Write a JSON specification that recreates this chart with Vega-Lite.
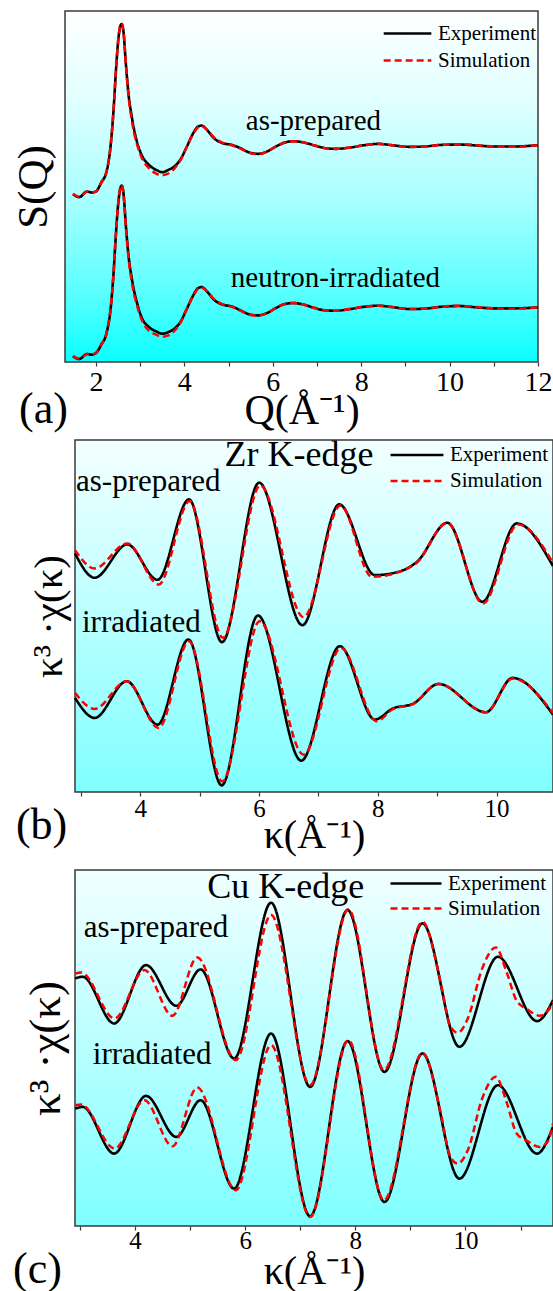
{
"$schema":"https://vega.github.io/schema/vega-lite/v6.json",
"padding":{"left":12,"top":10,"right":0,"bottom":0},
"background":"#ffffff",
"datasets":{
"a":[
{"s":"Experiment","g":"as","x":1.48,"y":5.04},{"s":"Experiment","g":"as","x":1.62,"y":4.95},{"s":"Experiment","g":"as","x":1.80,"y":5.12},{"s":"Experiment","g":"as","x":1.90,"y":5.09},{"s":"Experiment","g":"as","x":2.00,"y":5.12},{"s":"Experiment","g":"as","x":2.12,"y":5.39},{"s":"Experiment","g":"as","x":2.24,"y":5.72},{"s":"Experiment","g":"as","x":2.34,"y":6.6},{"s":"Experiment","g":"as","x":2.40,"y":7.6},{"s":"Experiment","g":"as","x":2.45,"y":8.7},{"s":"Experiment","g":"as","x":2.50,"y":9.6},{"s":"Experiment","g":"as","x":2.545,"y":10.05},{"s":"Experiment","g":"as","x":2.58,"y":10.15},{"s":"Experiment","g":"as","x":2.62,"y":9.95},{"s":"Experiment","g":"as","x":2.68,"y":8.9},{"s":"Experiment","g":"as","x":2.74,"y":8.0},{"s":"Experiment","g":"as","x":2.80,"y":7.45},{"s":"Experiment","g":"as","x":2.86,"y":7.0},{"s":"Experiment","g":"as","x":2.92,"y":6.65},{"s":"Experiment","g":"as","x":3.04,"y":6.2},{"s":"Experiment","g":"as","x":3.20,"y":5.92},{"s":"Experiment","g":"as","x":3.36,"y":5.77},{"s":"Experiment","g":"as","x":3.50,"y":5.70},{"s":"Experiment","g":"as","x":3.64,"y":5.77},{"s":"Experiment","g":"as","x":3.80,"y":5.90},{"s":"Experiment","g":"as","x":3.92,"y":6.1},{"s":"Experiment","g":"as","x":4.04,"y":6.42},{"s":"Experiment","g":"as","x":4.20,"y":6.87},{"s":"Experiment","g":"as","x":4.31,"y":7.07},{"s":"Experiment","g":"as","x":4.39,"y":7.10},{"s":"Experiment","g":"as","x":4.51,"y":6.97},{"s":"Experiment","g":"as","x":4.67,"y":6.72},{"s":"Experiment","g":"as","x":4.87,"y":6.57},{"s":"Experiment","g":"as","x":5.07,"y":6.52},{"s":"Experiment","g":"as","x":5.27,"y":6.42},{"s":"Experiment","g":"as","x":5.47,"y":6.29},{"s":"Experiment","g":"as","x":5.67,"y":6.25},{"s":"Experiment","g":"as","x":5.87,"y":6.32},{"s":"Experiment","g":"as","x":6.07,"y":6.47},{"s":"Experiment","g":"as","x":6.27,"y":6.59},{"s":"Experiment","g":"as","x":6.47,"y":6.63},{"s":"Experiment","g":"as","x":6.71,"y":6.59},{"s":"Experiment","g":"as","x":6.95,"y":6.50},{"s":"Experiment","g":"as","x":7.19,"y":6.42},{"s":"Experiment","g":"as","x":7.43,"y":6.40},{"s":"Experiment","g":"as","x":7.75,"y":6.44},{"s":"Experiment","g":"as","x":8.07,"y":6.51},{"s":"Experiment","g":"as","x":8.39,"y":6.55},{"s":"Experiment","g":"as","x":8.70,"y":6.51},{"s":"Experiment","g":"as","x":9.10,"y":6.46},{"s":"Experiment","g":"as","x":9.42,"y":6.47},{"s":"Experiment","g":"as","x":9.82,"y":6.52},{"s":"Experiment","g":"as","x":10.22,"y":6.53},{"s":"Experiment","g":"as","x":10.62,"y":6.50},{"s":"Experiment","g":"as","x":11.02,"y":6.47},{"s":"Experiment","g":"as","x":11.42,"y":6.47},{"s":"Experiment","g":"as","x":12.0,"y":6.51},
{"s":"Simulation","g":"as","x":1.48,"y":5.05},{"s":"Simulation","g":"as","x":1.62,"y":4.96},{"s":"Simulation","g":"as","x":1.80,"y":5.12},{"s":"Simulation","g":"as","x":1.90,"y":5.10},{"s":"Simulation","g":"as","x":2.00,"y":5.12},{"s":"Simulation","g":"as","x":2.12,"y":5.38},{"s":"Simulation","g":"as","x":2.24,"y":5.72},{"s":"Simulation","g":"as","x":2.34,"y":6.6},{"s":"Simulation","g":"as","x":2.40,"y":7.6},{"s":"Simulation","g":"as","x":2.45,"y":8.7},{"s":"Simulation","g":"as","x":2.50,"y":9.6},{"s":"Simulation","g":"as","x":2.545,"y":10.08},{"s":"Simulation","g":"as","x":2.58,"y":10.17},{"s":"Simulation","g":"as","x":2.62,"y":9.95},{"s":"Simulation","g":"as","x":2.68,"y":8.9},{"s":"Simulation","g":"as","x":2.74,"y":7.95},{"s":"Simulation","g":"as","x":2.80,"y":7.35},{"s":"Simulation","g":"as","x":2.86,"y":6.9},{"s":"Simulation","g":"as","x":2.92,"y":6.58},{"s":"Simulation","g":"as","x":3.04,"y":6.12},{"s":"Simulation","g":"as","x":3.20,"y":5.82},{"s":"Simulation","g":"as","x":3.36,"y":5.66},{"s":"Simulation","g":"as","x":3.50,"y":5.61},{"s":"Simulation","g":"as","x":3.64,"y":5.66},{"s":"Simulation","g":"as","x":3.80,"y":5.85},{"s":"Simulation","g":"as","x":3.92,"y":6.08},{"s":"Simulation","g":"as","x":4.04,"y":6.42},{"s":"Simulation","g":"as","x":4.20,"y":6.85},{"s":"Simulation","g":"as","x":4.31,"y":7.05},{"s":"Simulation","g":"as","x":4.39,"y":7.09},{"s":"Simulation","g":"as","x":4.51,"y":6.98},{"s":"Simulation","g":"as","x":4.67,"y":6.74},{"s":"Simulation","g":"as","x":4.87,"y":6.58},{"s":"Simulation","g":"as","x":5.07,"y":6.51},{"s":"Simulation","g":"as","x":5.27,"y":6.41},{"s":"Simulation","g":"as","x":5.47,"y":6.28},{"s":"Simulation","g":"as","x":5.67,"y":6.24},{"s":"Simulation","g":"as","x":5.87,"y":6.32},{"s":"Simulation","g":"as","x":6.07,"y":6.47},{"s":"Simulation","g":"as","x":6.27,"y":6.59},{"s":"Simulation","g":"as","x":6.47,"y":6.63},{"s":"Simulation","g":"as","x":6.71,"y":6.59},{"s":"Simulation","g":"as","x":6.95,"y":6.50},{"s":"Simulation","g":"as","x":7.19,"y":6.42},{"s":"Simulation","g":"as","x":7.43,"y":6.40},{"s":"Simulation","g":"as","x":7.75,"y":6.44},{"s":"Simulation","g":"as","x":8.07,"y":6.51},{"s":"Simulation","g":"as","x":8.39,"y":6.55},{"s":"Simulation","g":"as","x":8.70,"y":6.51},{"s":"Simulation","g":"as","x":9.10,"y":6.46},{"s":"Simulation","g":"as","x":9.42,"y":6.47},{"s":"Simulation","g":"as","x":9.82,"y":6.52},{"s":"Simulation","g":"as","x":10.22,"y":6.54},{"s":"Simulation","g":"as","x":10.62,"y":6.51},{"s":"Simulation","g":"as","x":11.02,"y":6.47},{"s":"Simulation","g":"as","x":11.42,"y":6.46},{"s":"Simulation","g":"as","x":12.0,"y":6.51},
{"s":"Experiment","g":"irr","x":1.48,"y":0.17},{"s":"Experiment","g":"irr","x":1.62,"y":0.09},{"s":"Experiment","g":"irr","x":1.80,"y":0.24},{"s":"Experiment","g":"irr","x":1.90,"y":0.22},{"s":"Experiment","g":"irr","x":2.00,"y":0.27},{"s":"Experiment","g":"irr","x":2.12,"y":0.52},{"s":"Experiment","g":"irr","x":2.24,"y":0.87},{"s":"Experiment","g":"irr","x":2.34,"y":1.7},{"s":"Experiment","g":"irr","x":2.40,"y":2.7},{"s":"Experiment","g":"irr","x":2.45,"y":3.8},{"s":"Experiment","g":"irr","x":2.50,"y":4.7},{"s":"Experiment","g":"irr","x":2.545,"y":5.18},{"s":"Experiment","g":"irr","x":2.58,"y":5.30},{"s":"Experiment","g":"irr","x":2.62,"y":5.10},{"s":"Experiment","g":"irr","x":2.68,"y":4.05},{"s":"Experiment","g":"irr","x":2.74,"y":3.15},{"s":"Experiment","g":"irr","x":2.80,"y":2.6},{"s":"Experiment","g":"irr","x":2.86,"y":2.15},{"s":"Experiment","g":"irr","x":2.92,"y":1.82},{"s":"Experiment","g":"irr","x":3.04,"y":1.32},{"s":"Experiment","g":"irr","x":3.20,"y":1.05},{"s":"Experiment","g":"irr","x":3.36,"y":0.92},{"s":"Experiment","g":"irr","x":3.50,"y":0.85},{"s":"Experiment","g":"irr","x":3.64,"y":0.90},{"s":"Experiment","g":"irr","x":3.80,"y":1.03},{"s":"Experiment","g":"irr","x":3.92,"y":1.22},{"s":"Experiment","g":"irr","x":4.04,"y":1.55},{"s":"Experiment","g":"irr","x":4.20,"y":2.0},{"s":"Experiment","g":"irr","x":4.31,"y":2.22},{"s":"Experiment","g":"irr","x":4.39,"y":2.25},{"s":"Experiment","g":"irr","x":4.51,"y":2.12},{"s":"Experiment","g":"irr","x":4.67,"y":1.87},{"s":"Experiment","g":"irr","x":4.87,"y":1.72},{"s":"Experiment","g":"irr","x":5.07,"y":1.67},{"s":"Experiment","g":"irr","x":5.27,"y":1.55},{"s":"Experiment","g":"irr","x":5.47,"y":1.43},{"s":"Experiment","g":"irr","x":5.67,"y":1.40},{"s":"Experiment","g":"irr","x":5.87,"y":1.47},{"s":"Experiment","g":"irr","x":6.07,"y":1.62},{"s":"Experiment","g":"irr","x":6.27,"y":1.74},{"s":"Experiment","g":"irr","x":6.47,"y":1.77},{"s":"Experiment","g":"irr","x":6.71,"y":1.72},{"s":"Experiment","g":"irr","x":6.95,"y":1.62},{"s":"Experiment","g":"irr","x":7.19,"y":1.55},{"s":"Experiment","g":"irr","x":7.43,"y":1.54},{"s":"Experiment","g":"irr","x":7.75,"y":1.59},{"s":"Experiment","g":"irr","x":8.07,"y":1.66},{"s":"Experiment","g":"irr","x":8.39,"y":1.69},{"s":"Experiment","g":"irr","x":8.70,"y":1.65},{"s":"Experiment","g":"irr","x":9.10,"y":1.59},{"s":"Experiment","g":"irr","x":9.42,"y":1.60},{"s":"Experiment","g":"irr","x":9.82,"y":1.66},{"s":"Experiment","g":"irr","x":10.22,"y":1.68},{"s":"Experiment","g":"irr","x":10.62,"y":1.64},{"s":"Experiment","g":"irr","x":11.02,"y":1.61},{"s":"Experiment","g":"irr","x":11.42,"y":1.61},{"s":"Experiment","g":"irr","x":12.0,"y":1.64},
{"s":"Simulation","g":"irr","x":1.48,"y":0.18},{"s":"Simulation","g":"irr","x":1.62,"y":0.10},{"s":"Simulation","g":"irr","x":1.80,"y":0.24},{"s":"Simulation","g":"irr","x":1.90,"y":0.23},{"s":"Simulation","g":"irr","x":2.00,"y":0.27},{"s":"Simulation","g":"irr","x":2.12,"y":0.51},{"s":"Simulation","g":"irr","x":2.24,"y":0.87},{"s":"Simulation","g":"irr","x":2.34,"y":1.7},{"s":"Simulation","g":"irr","x":2.40,"y":2.7},{"s":"Simulation","g":"irr","x":2.45,"y":3.8},{"s":"Simulation","g":"irr","x":2.50,"y":4.72},{"s":"Simulation","g":"irr","x":2.545,"y":5.2},{"s":"Simulation","g":"irr","x":2.58,"y":5.32},{"s":"Simulation","g":"irr","x":2.62,"y":5.10},{"s":"Simulation","g":"irr","x":2.68,"y":4.02},{"s":"Simulation","g":"irr","x":2.74,"y":3.08},{"s":"Simulation","g":"irr","x":2.80,"y":2.5},{"s":"Simulation","g":"irr","x":2.86,"y":2.05},{"s":"Simulation","g":"irr","x":2.92,"y":1.74},{"s":"Simulation","g":"irr","x":3.04,"y":1.25},{"s":"Simulation","g":"irr","x":3.20,"y":0.94},{"s":"Simulation","g":"irr","x":3.36,"y":0.82},{"s":"Simulation","g":"irr","x":3.50,"y":0.76},{"s":"Simulation","g":"irr","x":3.64,"y":0.80},{"s":"Simulation","g":"irr","x":3.80,"y":0.97},{"s":"Simulation","g":"irr","x":3.92,"y":1.2},{"s":"Simulation","g":"irr","x":4.04,"y":1.55},{"s":"Simulation","g":"irr","x":4.20,"y":1.98},{"s":"Simulation","g":"irr","x":4.31,"y":2.2},{"s":"Simulation","g":"irr","x":4.39,"y":2.24},{"s":"Simulation","g":"irr","x":4.51,"y":2.13},{"s":"Simulation","g":"irr","x":4.67,"y":1.89},{"s":"Simulation","g":"irr","x":4.87,"y":1.73},{"s":"Simulation","g":"irr","x":5.07,"y":1.66},{"s":"Simulation","g":"irr","x":5.27,"y":1.54},{"s":"Simulation","g":"irr","x":5.47,"y":1.42},{"s":"Simulation","g":"irr","x":5.67,"y":1.39},{"s":"Simulation","g":"irr","x":5.87,"y":1.47},{"s":"Simulation","g":"irr","x":6.07,"y":1.62},{"s":"Simulation","g":"irr","x":6.27,"y":1.74},{"s":"Simulation","g":"irr","x":6.47,"y":1.77},{"s":"Simulation","g":"irr","x":6.71,"y":1.72},{"s":"Simulation","g":"irr","x":6.95,"y":1.62},{"s":"Simulation","g":"irr","x":7.19,"y":1.55},{"s":"Simulation","g":"irr","x":7.43,"y":1.54},{"s":"Simulation","g":"irr","x":7.75,"y":1.59},{"s":"Simulation","g":"irr","x":8.07,"y":1.66},{"s":"Simulation","g":"irr","x":8.39,"y":1.69},{"s":"Simulation","g":"irr","x":8.70,"y":1.65},{"s":"Simulation","g":"irr","x":9.10,"y":1.59},{"s":"Simulation","g":"irr","x":9.42,"y":1.60},{"s":"Simulation","g":"irr","x":9.82,"y":1.66},{"s":"Simulation","g":"irr","x":10.22,"y":1.69},{"s":"Simulation","g":"irr","x":10.62,"y":1.65},{"s":"Simulation","g":"irr","x":11.02,"y":1.61},{"s":"Simulation","g":"irr","x":11.42,"y":1.60},{"s":"Simulation","g":"irr","x":12.0,"y":1.64}
],
"b":[
{"s":"Experiment","g":"as","x":2.90,"y":7.15},{"s":"Experiment","g":"as","x":3.23,"y":6.42},{"s":"Experiment","g":"as","x":3.78,"y":7.42},{"s":"Experiment","g":"as","x":4.29,"y":6.36},{"s":"Experiment","g":"as","x":4.82,"y":8.77},{"s":"Experiment","g":"as","x":5.375,"y":4.49},{"s":"Experiment","g":"as","x":6.00,"y":9.27},{"s":"Experiment","g":"as","x":6.73,"y":5.00},{"s":"Experiment","g":"as","x":7.35,"y":8.62},{"s":"Experiment","g":"as","x":7.95,"y":6.50},{"s":"Experiment","g":"as","x":8.40,"y":6.63},{"s":"Experiment","g":"as","x":8.66,"y":6.90},{"s":"Experiment","g":"as","x":9.17,"y":8.07},{"s":"Experiment","g":"as","x":9.76,"y":5.70},{"s":"Experiment","g":"as","x":10.34,"y":8.05},{"s":"Experiment","g":"as","x":10.95,"y":6.77},
{"s":"Simulation","g":"as","x":2.90,"y":7.25},{"s":"Simulation","g":"as","x":3.23,"y":6.70},{"s":"Simulation","g":"as","x":3.78,"y":7.45},{"s":"Simulation","g":"as","x":4.31,"y":6.22},{"s":"Simulation","g":"as","x":4.83,"y":8.72},{"s":"Simulation","g":"as","x":5.39,"y":4.62},{"s":"Simulation","g":"as","x":6.02,"y":9.19},{"s":"Simulation","g":"as","x":6.75,"y":5.24},{"s":"Simulation","g":"as","x":7.37,"y":8.59},{"s":"Simulation","g":"as","x":7.90,"y":6.45},{"s":"Simulation","g":"as","x":8.40,"y":6.62},{"s":"Simulation","g":"as","x":8.66,"y":6.88},{"s":"Simulation","g":"as","x":9.17,"y":8.07},{"s":"Simulation","g":"as","x":9.77,"y":5.65},{"s":"Simulation","g":"as","x":10.36,"y":8.02},{"s":"Simulation","g":"as","x":10.95,"y":6.87},
{"s":"Experiment","g":"irr","x":2.90,"y":2.82},{"s":"Experiment","g":"irr","x":3.23,"y":2.22},{"s":"Experiment","g":"irr","x":3.77,"y":3.32},{"s":"Experiment","g":"irr","x":4.29,"y":2.02},{"s":"Experiment","g":"irr","x":4.81,"y":4.57},{"s":"Experiment","g":"irr","x":5.37,"y":0.20},{"s":"Experiment","g":"irr","x":5.98,"y":5.29},{"s":"Experiment","g":"irr","x":6.71,"y":0.94},{"s":"Experiment","g":"irr","x":7.36,"y":4.37},{"s":"Experiment","g":"irr","x":7.95,"y":2.17},{"s":"Experiment","g":"irr","x":8.25,"y":2.50},{"s":"Experiment","g":"irr","x":8.60,"y":2.65},{"s":"Experiment","g":"irr","x":9.02,"y":3.24},{"s":"Experiment","g":"irr","x":9.82,"y":2.39},{"s":"Experiment","g":"irr","x":10.27,"y":3.42},{"s":"Experiment","g":"irr","x":10.95,"y":2.32},
{"s":"Simulation","g":"irr","x":2.90,"y":2.97},{"s":"Simulation","g":"irr","x":3.23,"y":2.49},{"s":"Simulation","g":"irr","x":3.77,"y":3.32},{"s":"Simulation","g":"irr","x":4.31,"y":1.92},{"s":"Simulation","g":"irr","x":4.82,"y":4.52},{"s":"Simulation","g":"irr","x":5.38,"y":0.32},{"s":"Simulation","g":"irr","x":6.01,"y":5.12},{"s":"Simulation","g":"irr","x":6.75,"y":1.12},{"s":"Simulation","g":"irr","x":7.38,"y":4.32},{"s":"Simulation","g":"irr","x":7.98,"y":2.12},{"s":"Simulation","g":"irr","x":8.25,"y":2.48},{"s":"Simulation","g":"irr","x":8.60,"y":2.64},{"s":"Simulation","g":"irr","x":9.02,"y":3.24},{"s":"Simulation","g":"irr","x":9.82,"y":2.39},{"s":"Simulation","g":"irr","x":10.27,"y":3.40},{"s":"Simulation","g":"irr","x":10.95,"y":2.37}
],
"c":[
{"s":"Experiment","g":"as","x":2.914,"y":7.42},{"s":"Experiment","g":"as","x":3.05,"y":7.47},{"s":"Experiment","g":"as","x":3.62,"y":6.07},{"s":"Experiment","g":"as","x":4.20,"y":7.82},{"s":"Experiment","g":"as","x":4.75,"y":6.60},{"s":"Experiment","g":"as","x":5.19,"y":7.69},{"s":"Experiment","g":"as","x":5.80,"y":5.02},{"s":"Experiment","g":"as","x":6.47,"y":9.69},{"s":"Experiment","g":"as","x":7.18,"y":4.17},{"s":"Experiment","g":"as","x":7.86,"y":9.47},{"s":"Experiment","g":"as","x":8.53,"y":4.62},{"s":"Experiment","g":"as","x":9.22,"y":9.07},{"s":"Experiment","g":"as","x":9.89,"y":5.37},{"s":"Experiment","g":"as","x":10.59,"y":8.07},{"s":"Experiment","g":"as","x":11.30,"y":6.14},{"s":"Experiment","g":"as","x":11.59,"y":6.77},
{"s":"Simulation","g":"as","x":2.914,"y":7.57},{"s":"Simulation","g":"as","x":3.02,"y":7.6},{"s":"Simulation","g":"as","x":3.63,"y":6.22},{"s":"Simulation","g":"as","x":4.17,"y":7.67},{"s":"Simulation","g":"as","x":4.68,"y":6.30},{"s":"Simulation","g":"as","x":5.13,"y":8.05},{"s":"Simulation","g":"as","x":5.83,"y":4.97},{"s":"Simulation","g":"as","x":6.47,"y":9.32},{"s":"Simulation","g":"as","x":7.18,"y":4.22},{"s":"Simulation","g":"as","x":7.875,"y":9.49},{"s":"Simulation","g":"as","x":8.52,"y":4.67},{"s":"Simulation","g":"as","x":9.22,"y":9.12},{"s":"Simulation","g":"as","x":9.55,"y":7.3},{"s":"Simulation","g":"as","x":9.72,"y":6.0},{"s":"Simulation","g":"as","x":9.86,"y":5.79},{"s":"Simulation","g":"as","x":10.05,"y":6.25},{"s":"Simulation","g":"as","x":10.30,"y":7.7},{"s":"Simulation","g":"as","x":10.55,"y":8.35},{"s":"Simulation","g":"as","x":10.75,"y":7.6},{"s":"Simulation","g":"as","x":10.93,"y":6.75},{"s":"Simulation","g":"as","x":11.12,"y":6.50},{"s":"Simulation","g":"as","x":11.35,"y":6.30},{"s":"Simulation","g":"as","x":11.50,"y":6.45},{"s":"Simulation","g":"as","x":11.59,"y":6.72},
{"s":"Experiment","g":"irr","x":2.914,"y":3.52},{"s":"Experiment","g":"irr","x":3.05,"y":3.57},{"s":"Experiment","g":"irr","x":3.62,"y":2.17},{"s":"Experiment","g":"irr","x":4.20,"y":3.90},{"s":"Experiment","g":"irr","x":4.75,"y":2.67},{"s":"Experiment","g":"irr","x":5.19,"y":3.77},{"s":"Experiment","g":"irr","x":5.80,"y":1.12},{"s":"Experiment","g":"irr","x":6.47,"y":5.77},{"s":"Experiment","g":"irr","x":7.18,"y":0.29},{"s":"Experiment","g":"irr","x":7.86,"y":5.54},{"s":"Experiment","g":"irr","x":8.53,"y":0.72},{"s":"Experiment","g":"irr","x":9.22,"y":5.17},{"s":"Experiment","g":"irr","x":9.89,"y":1.42},{"s":"Experiment","g":"irr","x":10.59,"y":4.22},{"s":"Experiment","g":"irr","x":11.30,"y":2.17},{"s":"Experiment","g":"irr","x":11.59,"y":2.97},
{"s":"Simulation","g":"irr","x":2.914,"y":3.62},{"s":"Simulation","g":"irr","x":3.02,"y":3.64},{"s":"Simulation","g":"irr","x":3.63,"y":2.32},{"s":"Simulation","g":"irr","x":4.17,"y":3.77},{"s":"Simulation","g":"irr","x":4.68,"y":2.39},{"s":"Simulation","g":"irr","x":5.13,"y":4.15},{"s":"Simulation","g":"irr","x":5.83,"y":1.07},{"s":"Simulation","g":"irr","x":6.47,"y":5.42},{"s":"Simulation","g":"irr","x":7.18,"y":0.27},{"s":"Simulation","g":"irr","x":7.875,"y":5.57},{"s":"Simulation","g":"irr","x":8.52,"y":0.77},{"s":"Simulation","g":"irr","x":9.22,"y":5.19},{"s":"Simulation","g":"irr","x":9.55,"y":3.4},{"s":"Simulation","g":"irr","x":9.72,"y":2.1},{"s":"Simulation","g":"irr","x":9.86,"y":1.87},{"s":"Simulation","g":"irr","x":10.05,"y":2.3},{"s":"Simulation","g":"irr","x":10.30,"y":3.8},{"s":"Simulation","g":"irr","x":10.55,"y":4.47},{"s":"Simulation","g":"irr","x":10.75,"y":3.7},{"s":"Simulation","g":"irr","x":10.93,"y":2.77},{"s":"Simulation","g":"irr","x":11.12,"y":2.55},{"s":"Simulation","g":"irr","x":11.35,"y":2.37},{"s":"Simulation","g":"irr","x":11.50,"y":2.55},{"s":"Simulation","g":"irr","x":11.59,"y":3.07}
]
},
"bounds":"flush",
"spacing":78,
"resolve":{"scale":{"color":"independent","strokeDash":"independent"},"legend":{"color":"independent","strokeDash":"independent"}},
"vconcat":[
{
"width":473,"height":351,
"layer":[
{"data":{"values":[{}]},"mark":{"type":"rect","fill":{"gradient":"linear","x1":0,"y1":0,"x2":0,"y2":1,"stops":[{"offset":0,"color":"#ffffff"},{"offset":0.25,"color":"#e2ffff"},{"offset":0.55,"color":"#a6ffff"},{"offset":0.82,"color":"#55ffff"},{"offset":1,"color":"#08ffff"}]},"stroke":"#3a3a3a","strokeWidth":1.5},
 "encoding":{"x":{"datum":1.3,"type":"quantitative"},"x2":{"datum":12},"y":{"datum":0,"type":"quantitative"},"y2":{"datum":10.54}}},
{"data":{"name":"a"},"transform":[{"filter":"datum.s === 'Experiment'"}],"mark":{"type":"line","interpolate":"monotone","strokeWidth":2.6},
 "encoding":{
  "x":{"field":"x","type":"quantitative","scale":{"domain":[1.3,12],"nice":false,"zero":false},"axis":{"title":"Q(Å⁻¹)","format":"d","values":[2,3,4,5,6,7,8,9,10,11,12],"labelExpr":"datum.value % 2 === 0 ? datum.label : ''","domain":false,"tickSize":4,"labelFontSize":28,"labelPadding":24,"labelBaseline":"alphabetic","titleFontSize":42,"titleY":61,"titleBaseline":"alphabetic"}},
  "y":{"field":"y","type":"quantitative","scale":{"domain":[0,10.54],"nice":false,"zero":false},"axis":{"title":"S(Q)","labels":false,"ticks":false,"domain":false,"titleFontSize":43,"titleX":-19,"titleBaseline":"alphabetic"}},
  "detail":{"field":"g"},
  "color":{"field":"s","type":"nominal","scale":{"domain":["Experiment","Simulation"],"range":["#000000","#ff0000"]},"legend":{"title":null,"orient":"none","legendX":317,"legendY":9,"symbolSize":2270,"clipHeight":27}},
  "strokeDash":{"field":"s","type":"nominal","scale":{"domain":["Experiment","Simulation"],"range":[[1,0],[7,4]]},"legend":{"title":null,"orient":"none","legendX":317,"legendY":9,"symbolSize":2270,"clipHeight":27}}
 }},
{"data":{"name":"a"},"transform":[{"filter":"datum.s === 'Simulation'"}],"mark":{"type":"line","interpolate":"monotone","strokeWidth":2.5},
 "encoding":{
  "x":{"field":"x","type":"quantitative"},
  "y":{"field":"y","type":"quantitative"},
  "detail":{"field":"g"},
  "color":{"field":"s","type":"nominal","legend":{"title":null,"orient":"none","legendX":317,"legendY":9,"symbolSize":2270,"clipHeight":27}},
  "strokeDash":{"field":"s","type":"nominal","legend":{"title":null,"orient":"none","legendX":317,"legendY":9,"symbolSize":2270,"clipHeight":27}}
 }},
{"data":{"values":[{}]},"mark":{"type":"text","align":"left","baseline":"alphabetic","fontSize":29,"color":"#000"},"encoding":{"x":{"datum":5.39,"type":"quantitative"},"y":{"datum":6.97,"type":"quantitative"},"text":{"value":"as-prepared"}}},
{"data":{"values":[{}]},"mark":{"type":"text","align":"left","baseline":"alphabetic","fontSize":29,"color":"#000"},"encoding":{"x":{"datum":5.05,"type":"quantitative"},"y":{"datum":2.25,"type":"quantitative"},"text":{"value":"neutron-irradiated"}}},
{"data":{"values":[{}]},"mark":{"type":"text","align":"left","baseline":"alphabetic","fontSize":44,"color":"#000"},"encoding":{"x":{"datum":0.26,"type":"quantitative"},"y":{"datum":-1.83,"type":"quantitative"},"text":{"value":"(a)"}}}
]
},
{
"width":488,"height":352,
"layer":[
{"data":{"values":[{}]},"mark":{"type":"rect","fill":{"gradient":"linear","x1":0,"y1":0,"x2":0,"y2":1,"stops":[{"offset":0,"color":"#f4ffff"},{"offset":1,"color":"#80ffff"}]},"stroke":"#3a3a3a","strokeWidth":1.5},
 "encoding":{"x":{"datum":2.9,"type":"quantitative"},"x2":{"datum":10.95},"y":{"datum":0,"type":"quantitative"},"y2":{"datum":10.55}}},
{"data":{"name":"b"},"transform":[{"filter":"datum.s === 'Experiment'"}],"mark":{"type":"line","interpolate":"monotone","strokeWidth":2.6},
 "encoding":{
  "x":{"field":"x","type":"quantitative","scale":{"domain":[2.7316,10.95],"nice":false,"zero":false},"axis":{"title":"κ(Å⁻¹)","titleX":249,"format":"d","values":[3,4,5,6,7,8,9,10],"labelExpr":"datum.value % 2 === 0 ? datum.label : ''","domain":false,"tickSize":4,"labelFontSize":25,"labelPadding":20,"labelBaseline":"alphabetic","titleFontSize":40,"titleY":55,"titleBaseline":"alphabetic"}},
  "y":{"field":"y","type":"quantitative","scale":{"domain":[0,10.55],"nice":false,"zero":false},"axis":{"title":"κ³ ·χ(κ)","labels":false,"ticks":false,"domain":false,"titleFontSize":41,"titleX":-4,"titleBaseline":"alphabetic"}},
  "detail":{"field":"g"},
  "color":{"field":"s","type":"nominal","scale":{"domain":["Experiment","Simulation"],"range":["#000000","#ff0000"]},"legend":{"title":null,"orient":"none","legendX":324,"legendY":2,"symbolSize":2800,"clipHeight":26}},
  "strokeDash":{"field":"s","type":"nominal","scale":{"domain":["Experiment","Simulation"],"range":[[1,0],[7,4]]},"legend":{"title":null,"orient":"none","legendX":324,"legendY":2,"symbolSize":2800,"clipHeight":26}}
 }},
{"data":{"name":"b"},"transform":[{"filter":"datum.s === 'Simulation'"}],"mark":{"type":"line","interpolate":"monotone","strokeWidth":2.5},
 "encoding":{
  "x":{"field":"x","type":"quantitative"},
  "y":{"field":"y","type":"quantitative"},
  "detail":{"field":"g"},
  "color":{"field":"s","type":"nominal","legend":{"title":null,"orient":"none","legendX":324,"legendY":2,"symbolSize":2800,"clipHeight":26}},
  "strokeDash":{"field":"s","type":"nominal","legend":{"title":null,"orient":"none","legendX":324,"legendY":2,"symbolSize":2800,"clipHeight":26}}
 }},
{"data":{"values":[{}]},"mark":{"type":"text","align":"left","baseline":"alphabetic","fontSize":36,"color":"#000"},"encoding":{"x":{"datum":5.417,"type":"quantitative"},"y":{"datum":9.77,"type":"quantitative"},"text":{"value":"Zr K-edge"}}},
{"data":{"values":[{}]},"mark":{"type":"text","align":"left","baseline":"alphabetic","fontSize":31,"color":"#000"},"encoding":{"x":{"datum":2.917,"type":"quantitative"},"y":{"datum":9.02,"type":"quantitative"},"text":{"value":"as-prepared"}}},
{"data":{"values":[{}]},"mark":{"type":"text","align":"left","baseline":"alphabetic","fontSize":31,"color":"#000"},"encoding":{"x":{"datum":3.018,"type":"quantitative"},"y":{"datum":4.79,"type":"quantitative"},"text":{"value":"irradiated"}}},
{"data":{"values":[{}]},"mark":{"type":"text","align":"left","baseline":"alphabetic","fontSize":44,"color":"#000"},"encoding":{"x":{"datum":1.905,"type":"quantitative"},"y":{"datum":-1.41,"type":"quantitative"},"text":{"value":"(b)"}}}
]
},
{
"width":488,"height":356,
"layer":[
{"data":{"values":[{}]},"mark":{"type":"rect","fill":{"gradient":"linear","x1":0,"y1":0,"x2":0,"y2":1,"stops":[{"offset":0,"color":"#f2ffff"},{"offset":1,"color":"#7fffff"}]},"stroke":"#3a3a3a","strokeWidth":1.5},
 "encoding":{"x":{"datum":2.91,"type":"quantitative"},"x2":{"datum":11.59},"y":{"datum":0,"type":"quantitative"},"y2":{"datum":10.67}}},
{"data":{"name":"c"},"transform":[{"filter":"datum.s === 'Experiment'"}],"mark":{"type":"line","interpolate":"monotone","strokeWidth":2.6},
 "encoding":{
  "x":{"field":"x","type":"quantitative","scale":{"domain":[2.7284,11.59],"nice":false,"zero":false},"axis":{"title":"κ(Å⁻¹)","titleX":249,"format":"d","values":[3,4,5,6,7,8,9,10,11],"labelExpr":"datum.value % 2 === 0 ? datum.label : ''","domain":false,"tickSize":4,"labelFontSize":25,"labelPadding":18,"labelBaseline":"alphabetic","titleFontSize":40,"titleY":57,"titleBaseline":"alphabetic"}},
  "y":{"field":"y","type":"quantitative","scale":{"domain":[0,10.67],"nice":false,"zero":false},"axis":{"title":"κ³ ·χ(κ)","labels":false,"ticks":false,"domain":false,"titleFontSize":45,"titleX":-6,"titleBaseline":"alphabetic"}},
  "detail":{"field":"g"},
  "color":{"field":"s","type":"nominal","scale":{"domain":["Experiment","Simulation"],"range":["#000000","#ff0000"]},"legend":{"title":null,"orient":"none","legendX":324,"legendY":1,"symbolSize":2600,"clipHeight":25}},
  "strokeDash":{"field":"s","type":"nominal","scale":{"domain":["Experiment","Simulation"],"range":[[1,0],[7,4]]},"legend":{"title":null,"orient":"none","legendX":324,"legendY":1,"symbolSize":2600,"clipHeight":25}}
 }},
{"data":{"name":"c"},"transform":[{"filter":"datum.s === 'Simulation'"}],"mark":{"type":"line","interpolate":"monotone","strokeWidth":2.5},
 "encoding":{
  "x":{"field":"x","type":"quantitative"},
  "y":{"field":"y","type":"quantitative"},
  "detail":{"field":"g"},
  "color":{"field":"s","type":"nominal","legend":{"title":null,"orient":"none","legendX":324,"legendY":1,"symbolSize":2600,"clipHeight":25}},
  "strokeDash":{"field":"s","type":"nominal","legend":{"title":null,"orient":"none","legendX":324,"legendY":1,"symbolSize":2600,"clipHeight":25}}
 }},
{"data":{"values":[{}]},"mark":{"type":"text","align":"left","baseline":"alphabetic","fontSize":36,"color":"#000"},"encoding":{"x":{"datum":5.31,"type":"quantitative"},"y":{"datum":9.82,"type":"quantitative"},"text":{"value":"Cu K-edge"}}},
{"data":{"values":[{}]},"mark":{"type":"text","align":"left","baseline":"alphabetic","fontSize":31,"color":"#000"},"encoding":{"x":{"datum":3.067,"type":"quantitative"},"y":{"datum":8.65,"type":"quantitative"},"text":{"value":"as-prepared"}}},
{"data":{"values":[{}]},"mark":{"type":"text","align":"left","baseline":"alphabetic","fontSize":31,"color":"#000"},"encoding":{"x":{"datum":3.233,"type":"quantitative"},"y":{"datum":4.85,"type":"quantitative"},"text":{"value":"irradiated"}}},
{"data":{"values":[{}]},"mark":{"type":"text","align":"left","baseline":"alphabetic","fontSize":44,"color":"#000"},"encoding":{"x":{"datum":1.786,"type":"quantitative"},"y":{"datum":-1.71,"type":"quantitative"},"text":{"value":"(c)"}}}
]
}
],
"config":{
"view":{"stroke":null},
"font":"Liberation Serif",
"text":{"font":"Liberation Serif"},
"axis":{"grid":false,"labelFont":"Liberation Serif","titleFont":"Liberation Serif","labelColor":"#000000","titleColor":"#000000","titleFontWeight":"normal","tickColor":"#3a3a3a","tickWidth":1.2,"labelOverlap":false,"labelFlush":false},
"legend":{"labelFont":"Liberation Serif","labelFontSize":21,"labelColor":"#000000","symbolType":"stroke","symbolStrokeWidth":2.5,"rowPadding":0,"padding":0,"labelOffset":5}
}
}
